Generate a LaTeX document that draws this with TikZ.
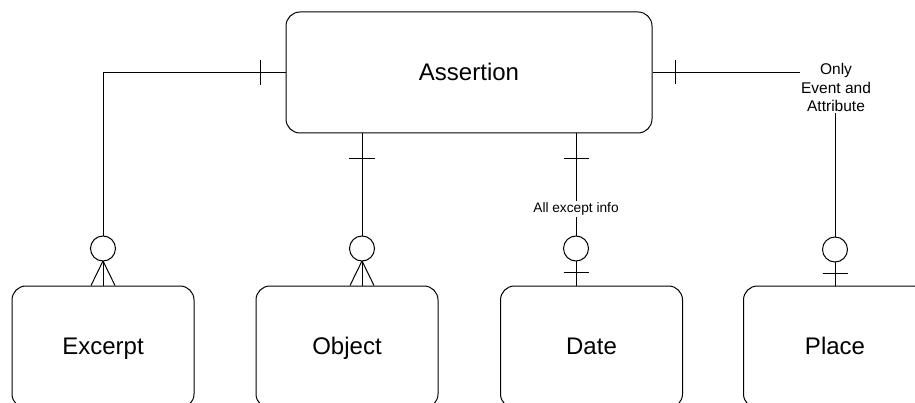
\documentclass[tikz,border=0pt]{standalone}
\usepackage{fontspec}
\setmainfont{Liberation Sans}
\usetikzlibrary{calc}
\begin{document}
\begin{tikzpicture}[x=1pt,y=-1pt,line width=1pt,
  entity/.style={draw,rounded corners=14pt,inner sep=0pt,text height=17.5pt,text depth=2pt,font=\fontsize{24}{28}\selectfont},
  smallbox/.style={entity,minimum width=182pt,minimum height=122pt},
  omark/.style={draw,circle,fill=white,minimum size=25pt,inner sep=0pt},
  lblsmall/.style={fill=white,inner sep=2pt,font=\fontsize{13.7}{16}\selectfont},
  lblnote/.style={fill=white,inner sep=1pt,align=center,font=\fontsize{15.5}{18.5}\selectfont}]
\useasboundingbox (0,0) rectangle (915,403);
\clip (0,0) rectangle (915,403);
% entities
\node[entity,minimum width=366pt,minimum height=121pt] (assertion) at (469,72.5) {Assertion};
\node[smallbox] (excerpt) at (103,347) {Excerpt};
\node[smallbox] (object) at (347,347) {Object};
\node[smallbox] (date) at (591.5,347) {Date};
\node[smallbox,minimum width=183pt] (place) at (835,347) {Place};
\coordinate (objx) at (362,200);
\coordinate (datex) at (576,200);
% Assertion -- Excerpt
\draw (assertion.west) -| (excerpt.north);
\draw ($(assertion.west)+(-25,-12.5)$) -- ++(0,25);
\draw ($(excerpt.north)+(0,-24.5)$) -- ($(excerpt.north)+(-12,0)$);
\draw ($(excerpt.north)+(0,-24.5)$) -- ($(excerpt.north)+(12,0)$);
\node[omark] (excircle) at ($(excerpt.north)+(0,-37)$) {};
% Assertion -- Object
\draw (assertion.south -| objx) -- (object.north -| objx);
\draw ($(assertion.south -| objx)+(-13,25)$) -- ++(26,0);
\draw ($(object.north -| objx)+(0,-24.5)$) -- ($(object.north -| objx)+(-12,0)$);
\draw ($(object.north -| objx)+(0,-24.5)$) -- ($(object.north -| objx)+(12,0)$);
\node[omark] (obcircle) at ($(object.north -| objx)+(0,-37)$) {};
% Assertion -- Date
\draw (assertion.south -| datex) -- (date.north -| datex);
\draw ($(assertion.south -| datex)+(-12.5,25)$) -- ++(25,0);
\node[lblsmall] (allexcept) at (576,209) {All except info};
\node[omark] (dacircle) at ($(date.north -| datex)+(0,-37)$) {};
\draw ($(date.north -| datex)+(-12.5,-13)$) -- ++(25,0);
% Assertion -- Place
\node[lblnote] (only) at (836,87.5) {Only\\Event and\\Attribute};
\draw (assertion.east) -- (assertion.east -| only.west);
\draw ($(assertion.east)+(23,-12)$) -- ++(0,24);
\draw (only.south -| place.north) -- (place.north);
\node[omark] (plcircle) at ($(place.north)+(0,-36)$) {};
\draw ($(place.north)+(-12.5,-12)$) -- ++(25,0);
\end{tikzpicture}
\end{document}
